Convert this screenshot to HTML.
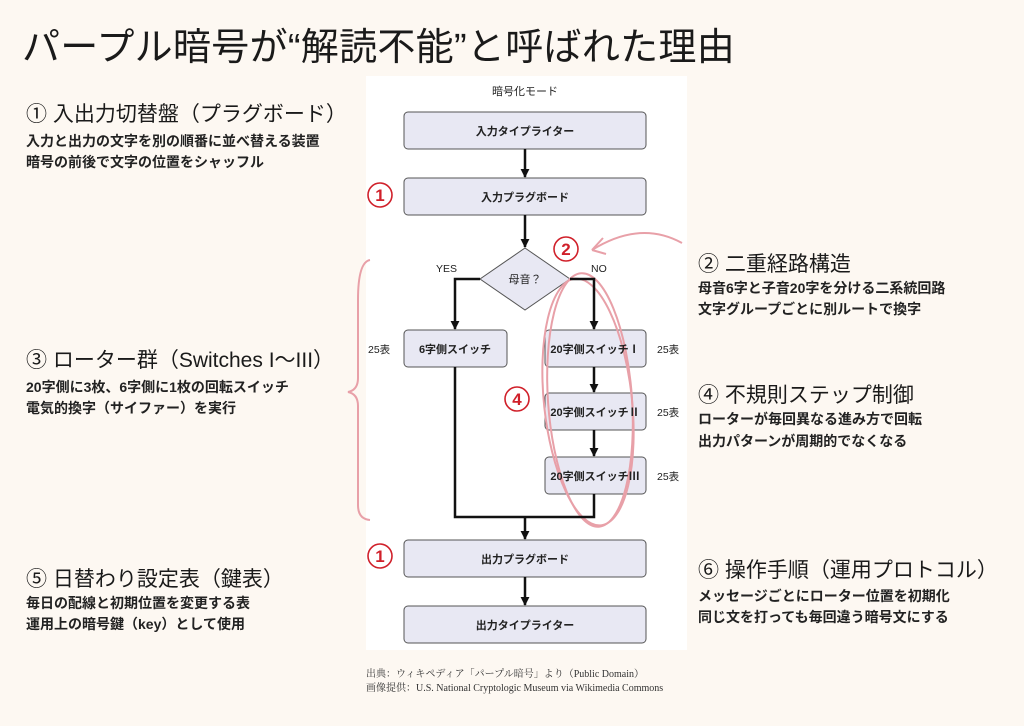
<!DOCTYPE html>
<html><head><meta charset="utf-8"><style>
body{margin:0;width:1024px;height:726px;background:#fdf8f2;position:relative;overflow:hidden;font-family:"Liberation Sans","Noto Sans CJK JP",sans-serif;color:#1a1a1a}
.t{position:absolute;white-space:nowrap}
h1{position:absolute;left:22px;top:16px;margin:0;font-size:38px;font-weight:400;white-space:nowrap;letter-spacing:0.3px}
.h{font-size:21px}
.s{font-size:14px;font-weight:700;color:#222}
</style></head><body>
<h1>パープル暗号が“解読不能”と呼ばれた理由</h1>
<div class="t h" style="left:26px;top:98px">① 入出力切替盤（プラグボード）</div>
<div class="t s" style="left:26px;top:131px">入力と出力の文字を別の順番に並べ替える装置</div>
<div class="t s" style="left:26px;top:152px">暗号の前後で文字の位置をシャッフル</div>
<div class="t h" style="left:26px;top:344px">③ ローター群（Switches I〜III）</div>
<div class="t s" style="left:26px;top:377px">20字側に3枚、6字側に1枚の回転スイッチ</div>
<div class="t s" style="left:26px;top:398px">電気的換字（サイファー）を実行</div>
<div class="t h" style="left:26px;top:563px">⑤ 日替わり設定表（鍵表）</div>
<div class="t s" style="left:26px;top:593px">毎日の配線と初期位置を変更する表</div>
<div class="t s" style="left:26px;top:614px">運用上の暗号鍵（key）として使用</div>
<div class="t h" style="left:698px;top:248px">② 二重経路構造</div>
<div class="t s" style="left:698px;top:278px">母音6字と子音20字を分ける二系統回路</div>
<div class="t s" style="left:698px;top:299px">文字グループごとに別ルートで換字</div>
<div class="t h" style="left:698px;top:379px">④ 不規則ステップ制御</div>
<div class="t s" style="left:698px;top:409px">ローターが毎回異なる進み方で回転</div>
<div class="t s" style="left:698px;top:431px">出力パターンが周期的でなくなる</div>
<div class="t h" style="left:698px;top:554px">⑥ 操作手順（運用プロトコル）</div>
<div class="t s" style="left:698px;top:586px">メッセージごとにローター位置を初期化</div>
<div class="t s" style="left:698px;top:607px">同じ文を打っても毎回違う暗号文にする</div>
<div class="t" style="left:366px;top:665px;font-size:10px;font-family:'Liberation Serif','Noto Serif CJK SC',serif;color:#333">出典：ウィキペディア「パープル暗号」より（Public Domain）</div>
<div class="t" style="left:366px;top:679px;font-size:10px;font-family:'Liberation Serif','Noto Serif CJK SC',serif;color:#333">画像提供：U.S. National Cryptologic Museum via Wikimedia Commons</div>
<svg width="1024" height="726" style="position:absolute;left:0;top:0" font-family="Liberation Sans, Noto Sans CJK JP, sans-serif">
<defs>
<marker id="d" viewBox="0 0 10 10" markerWidth="9" markerHeight="9" refX="9" refY="5" orient="auto" markerUnits="userSpaceOnUse"><path d="M0,0 L10,5 L0,10z" fill="#111"/></marker></defs>
<rect x="366" y="76" width="321" height="574" fill="#fff"/>
<text x="525" y="95" font-size="11" text-anchor="middle" fill="#222">暗号化モード</text>
<g fill="#e8e8f3" stroke="#555" stroke-width="1">
<rect x="404" y="112" width="242" height="37" rx="4"/>
<rect x="404" y="178" width="242" height="37" rx="4"/>
<rect x="404" y="330" width="103" height="37" rx="4"/>
<rect x="545" y="330" width="101" height="37" rx="4"/>
<rect x="545" y="393" width="101" height="37" rx="4"/>
<rect x="545" y="457" width="101" height="37" rx="4"/>
<rect x="404" y="540" width="242" height="37" rx="4"/>
<rect x="404" y="606" width="242" height="37" rx="4"/>
<path d="M525,248 L570,279 L525,310 L480,279z"/>
</g>
<g stroke="#e8a0a8" stroke-width="2" fill="none">
<ellipse cx="590" cy="400" rx="42" ry="127" transform="rotate(-4 590 400)"/>
<ellipse cx="588" cy="402" rx="44" ry="124" transform="rotate(-6 588 402)"/>
</g>
<g font-size="11" text-anchor="middle" fill="#222" font-weight="700">
<text x="525" y="135">入力タイプライター</text>
<text x="525" y="201">入力プラグボード</text>
<text x="525" y="283" font-weight="400">母音？</text>
<text x="455" y="353">6字側スイッチ</text>
<text x="595" y="353">20字側スイッチⅠ</text>
<text x="595" y="416">20字側スイッチⅡ</text>
<text x="595" y="480">20字側スイッチⅢ</text>
<text x="525" y="563">出力プラグボード</text>
<text x="525" y="629">出力タイプライター</text>
</g>
<g font-size="10.5" fill="#222">
<text x="436" y="272">YES</text><text x="591" y="272">NO</text>
<text x="368" y="353">25表</text><text x="657" y="353">25表</text>
<text x="657" y="416">25表</text><text x="657" y="480">25表</text>
</g>
<g stroke="#111" stroke-width="2.5" fill="none">
<path d="M525,149 V177" marker-end="url(#d)"/>
<path d="M525,215 V247" marker-end="url(#d)"/>
<path d="M480,279 H455 V329" marker-end="url(#d)"/>
<path d="M570,279 H594 V329" marker-end="url(#d)"/>
<path d="M594,367 V392" marker-end="url(#d)"/>
<path d="M594,430 V456" marker-end="url(#d)"/>
<path d="M455,367 V517 H594 V494"/>
<path d="M525,517 V539" marker-end="url(#d)"/>
<path d="M525,577 V605" marker-end="url(#d)"/>
</g>
<g stroke="#e8a0a8" stroke-width="2" fill="none">
<path d="M682,243 Q640,220 592,250"/>
<path d="M592,250 L603,238 M592,250 L606,254"/>
<path d="M370,260 Q358,262 358,300 L358,378 Q358,390 348,392 Q358,394 358,406 L358,505 Q358,519 370,520"/>
</g>
<g fill="none" stroke="#d0202a" stroke-width="1.6">
<circle cx="380" cy="195" r="12"/><circle cx="380" cy="556" r="12"/>
<circle cx="566" cy="249" r="12"/><circle cx="517" cy="399" r="12"/>
</g>
<g fill="#d0202a" font-size="17" font-weight="700" text-anchor="middle">
<text x="380" y="201">1</text><text x="380" y="562">1</text>
<text x="566" y="255">2</text><text x="517" y="405">4</text>
</g>
</svg>
</body></html>
